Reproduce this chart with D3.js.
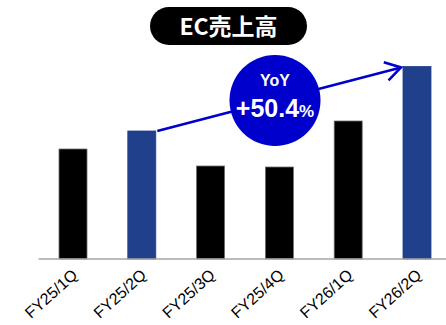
<!DOCTYPE html>
<html>
<head>
<meta charset="utf-8">
<script src="https://cdn.jsdelivr.net/npm/d3@7"></script>
<style>
  html, body { margin: 0; padding: 0; background: #fff; }
  svg { display: block; }
</style>
</head>
<body>
<script>
// Quarterly EC sales (relative units)
const quarters = ["FY25/1Q", "FY25/2Q", "FY25/3Q", "FY25/4Q", "FY26/1Q", "FY26/2Q"];
const sales = [110, 128, 93, 92, 138, 192.5];
const highlight = ["FY25/2Q", "FY26/2Q"];
const titleText = "EC売上高";
const yoyLabel = "YoY";
const yoyValue = "+50.4";

const W = 446, H = 325;
const baseY = 259;

const svg = d3.select("body").append("svg")
  .attr("width", W).attr("height", H);

const x = d3.scaleBand()
  .domain(quarters)
  .range([38.6, 451.4])
  .paddingInner(0.593)
  .paddingOuter(0.2965);

const y = d3.scaleLinear()
  .domain([0, 200])
  .range([baseY, baseY - 200]);

// bars
svg.append("g").selectAll("rect")
  .data(quarters)
  .join("rect")
  .attr("x", d => x(d))
  .attr("y", (d, i) => y(sales[i]))
  .attr("width", x.bandwidth())
  .attr("height", (d, i) => y(0) - y(sales[i]))
  .attr("fill", d => highlight.includes(d) ? "#21408b" : "#000000")
  .attr("stroke", d => highlight.includes(d) ? "#21408b" : "#6f6f6f")
  .attr("stroke-width", 0.8);

// baseline axis
const xAxis = d3.axisBottom(x).tickSize(0).tickPadding(0);
const gx = svg.append("g")
  .attr("transform", `translate(0,${baseY})`)
  .call(xAxis);
gx.select(".domain")
  .attr("d", `M${x.range()[0]},0H${W}`)
  .attr("stroke", "#a6a6a6")
  .attr("stroke-width", 1.6);
gx.selectAll(".tick text")
  .attr("font-family", "Liberation Sans, Arial, sans-serif")
  .attr("font-size", 16)
  .attr("fill", "#000")
  .attr("text-anchor", "end")
  .attr("dy", 0)
  .attr("y", 0)
  .attr("transform", "translate(5.5,17.5) rotate(-42)");

// growth arrow from FY25/2Q to FY26/2Q
const a0 = highlight[0], a1 = highlight[1];
const sx = x(a0) + x.bandwidth() + 1.5, sy = y(sales[quarters.indexOf(a0)]);
const ex = x(a1) - 2, ey = y(sales[quarters.indexOf(a1)]) + 1;
const arrowColor = "#0000cc";
svg.append("line")
  .attr("x1", sx).attr("y1", sy)
  .attr("x2", ex).attr("y2", ey)
  .attr("stroke", arrowColor).attr("stroke-width", 2.6);
const ang = Math.atan2(ey - sy, ex - sx);
const headLen = 18, headSpread = 0.55;
const hp = s => [ex - headLen * Math.cos(ang + s * headSpread), ey - headLen * Math.sin(ang + s * headSpread)];
const p1 = hp(1), p2 = hp(-1);
svg.append("path")
  .attr("d", `M${p1[0]},${p1[1]}L${ex},${ey}L${p2[0]},${p2[1]}`)
  .attr("fill", "none")
  .attr("stroke", arrowColor).attr("stroke-width", 2.6)
  .attr("stroke-linejoin", "miter");

// YoY badge
const badge = svg.append("g").attr("transform", "translate(275,100.5)");
badge.append("circle").attr("r", 45.5).attr("fill", arrowColor);
badge.append("text")
  .attr("y", -14.5)
  .attr("text-anchor", "middle")
  .attr("font-family", "Liberation Sans, Arial, sans-serif")
  .attr("font-weight", "bold")
  .attr("font-size", 16)
  .attr("fill", "#fff")
  .text(yoyLabel);
const vt = badge.append("text")
  .attr("y", 16.5)
  .attr("text-anchor", "middle")
  .attr("font-family", "Liberation Sans, Arial, sans-serif")
  .attr("font-weight", "bold")
  .attr("fill", "#fff");
vt.append("tspan").attr("font-size", 25).text(yoyValue);
vt.append("tspan").attr("font-size", 17).text("%");

// title pill
const title = svg.append("g").attr("transform", "translate(228.5,26)");
title.append("rect")
  .attr("x", -78.5).attr("y", -19)
  .attr("width", 157).attr("height", 38)
  .attr("rx", 19)
  .attr("fill", "#000");
title.append("text")
  .attr("y", 9)
  .attr("text-anchor", "middle")
  .attr("font-family", "Noto Sans CJK JP, sans-serif")
  .attr("font-weight", "bold")
  .attr("font-size", 23)
  .attr("fill", "#fff")
  .text(titleText);
</script>
</body>
</html>
